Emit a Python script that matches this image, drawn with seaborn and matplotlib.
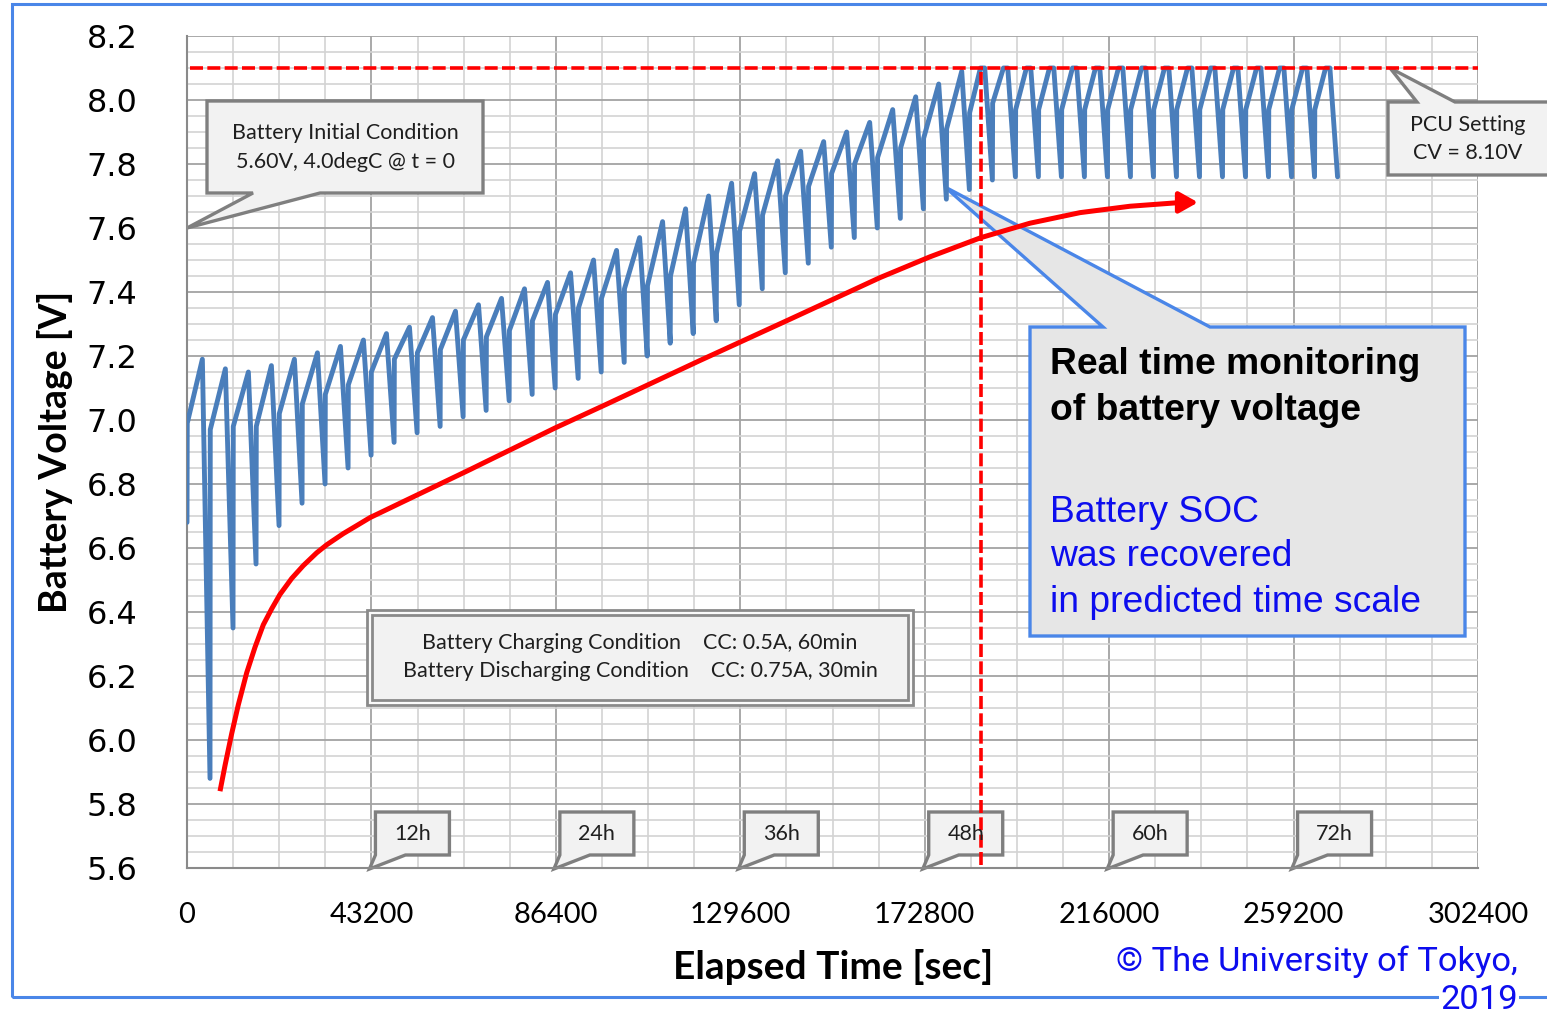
import numpy as np
import pandas as pd
import matplotlib
matplotlib.use("Agg")
import matplotlib.pyplot as plt
import seaborn as sns
from matplotlib.patches import Polygon, Rectangle
from matplotlib.ticker import MultipleLocator, FixedLocator, FixedFormatter

# ---------------- data ----------------
CYCLE_SEC = 5390          # 60 min charge + 30 min discharge
CHARGE_SEC = 3600
START_V = 6.68            # voltage at t = 0
CV_LIMIT = 8.10           # PCU CV setting

CHARGE_START_V = [6.99, 6.97, 6.98, 6.98, 7.02, 7.05, 7.08, 7.11, 7.15, 7.19,
                  7.21, 7.22, 7.25, 7.26, 7.28, 7.31, 7.33, 7.35, 7.38, 7.41,
                  7.42, 7.45, 7.49, 7.52, 7.59, 7.64, 7.70, 7.73, 7.77, 7.80,
                  7.82, 7.85, 7.88, 7.91, 7.96, 7.99, 7.97, 7.97, 7.97, 7.97,
                  7.97, 7.97, 7.97, 7.97, 7.97, 7.97, 7.97, 7.97, 7.97, 7.97]
PEAK_V = [7.19, 7.16, 7.15, 7.17, 7.19, 7.21, 7.23, 7.25, 7.27, 7.29,
          7.32, 7.34, 7.36, 7.38, 7.41, 7.43, 7.46, 7.50, 7.53, 7.57,
          7.62, 7.66, 7.70, 7.74, 7.77, 7.81, 7.84, 7.87, 7.90, 7.93,
          7.97, 8.01, 8.05, 8.09, 8.10, 8.10, 8.10, 8.10, 8.10, 8.10,
          8.10, 8.10, 8.10, 8.10, 8.10, 8.10, 8.10, 8.10, 8.10, 8.10]
TROUGH_V = [5.88, 6.35, 6.55, 6.67, 6.74, 6.80, 6.85, 6.89, 6.93, 6.96,
            6.98, 7.01, 7.03, 7.06, 7.08, 7.10, 7.13, 7.15, 7.18, 7.20,
            7.24, 7.27, 7.31, 7.36, 7.41, 7.46, 7.49, 7.54, 7.57, 7.60,
            7.63, 7.66, 7.69, 7.72, 7.75, 7.76, 7.76, 7.76, 7.76, 7.76,
            7.76, 7.76, 7.76, 7.76, 7.76, 7.76, 7.76, 7.76, 7.76, 7.76]

# hand-drawn SOC trend arrow (red)
TREND_T = [7730, 8900, 10470, 12020, 13980, 15930, 17870, 19840, 21780, 24530,
           27240, 30380, 32720, 36610, 39750, 42870, 46780, 50670, 54580, 60040,
           66290, 69330, 86200, 98380, 120000, 141250, 162330, 174040, 185990,
           197460, 209180, 220890, 233070, 236820]
TREND_V = [5.84, 5.92, 6.02, 6.11, 6.21, 6.29, 6.36, 6.41, 6.455, 6.505,
           6.545, 6.585, 6.61, 6.645, 6.67, 6.695, 6.72, 6.745, 6.77, 6.805,
           6.845, 6.865, 6.975, 7.05, 7.185, 7.315, 7.445, 7.51, 7.57,
           7.615, 7.648, 7.668, 7.68, 7.68]

CV_START_T = 186100       # vertical dashed marker
X_TICKS = [0, 43200, 86400, 129600, 172800, 216000, 259200, 302400]
Y_TICKS = [5.6, 5.8, 6.0, 6.2, 6.4, 6.6, 6.8, 7.0, 7.2, 7.4, 7.6, 7.8, 8.0, 8.2]
HOUR_T = [43200, 86400, 129600, 172800, 216000, 259200]
HOUR_LABELS = ["12h", "24h", "36h", "48h", "60h", "72h"]

# ---------------- build the measured series ----------------
t_pts, v_pts = [0.0], [START_V]
for k in range(len(PEAK_V)):
    t0 = k * CYCLE_SEC
    t_pts.append(t0 + 60); v_pts.append(CHARGE_START_V[k])
    if PEAK_V[k] >= CV_LIMIT:
        t_pts.append(t0 + 0.72 * CHARGE_SEC); v_pts.append(CV_LIMIT)
    t_pts.append(t0 + CHARGE_SEC); v_pts.append(PEAK_V[k])
    t_pts.append(t0 + CYCLE_SEC); v_pts.append(TROUGH_V[k])
df = pd.DataFrame({"t": t_pts, "v": v_pts})
trend = pd.DataFrame({"t": TREND_T, "v": TREND_V})

# ---------------- figure ----------------
sns.set_theme(style="white")
plt.rcParams["font.family"] = ["DejaVu Sans"]
W, H = 1547, 1017
fig = plt.figure(figsize=(W / 100, H / 100), dpi=100)
ax = fig.add_axes([187 / W, 1 - 868 / H, 1291 / W, 832 / H])


def fp(x, y):
    return (x / W, 1 - y / H)


ax.set_xlim(0, 302400)
ax.set_ylim(5.6, 8.2)
ax.xaxis.set_major_locator(FixedLocator(X_TICKS))
ax.xaxis.set_major_formatter(FixedFormatter([str(x) for x in X_TICKS]))
ax.xaxis.set_minor_locator(MultipleLocator(10800))
ax.yaxis.set_major_locator(FixedLocator(Y_TICKS))
ax.yaxis.set_major_formatter(FixedFormatter([f"{y:.1f}" for y in Y_TICKS]))
ax.yaxis.set_minor_locator(MultipleLocator(0.05))
ax.set_axisbelow(True)
ax.grid(which="major", color="#a3a3a3", lw=1.3)
ax.grid(which="minor", color="#d3d3d3", lw=1.2)
for s in ["top", "right"]:
    ax.spines[s].set_visible(False)
for s in ["left", "bottom"]:
    ax.spines[s].set_color("#8a8a8a")
    ax.spines[s].set_linewidth(1.5)
ax.tick_params(axis="both", which="major", direction="out", length=8.6,
               width=1.1, color="#8a8a8a")
ax.tick_params(axis="both", which="minor", length=0)
ax.tick_params(axis="x", which="major", pad=16)
ax.tick_params(axis="y", which="major", pad=27)
for lab in ax.get_xticklabels():
    lab.set_fontfamily("Lato"); lab.set_fontsize(21); lab.set_color("black")
for lab in ax.get_yticklabels():
    lab.set_fontfamily("DejaVu Sans"); lab.set_fontsize(23); lab.set_color("black")

# measured battery voltage
sns.lineplot(data=df, x="t", y="v", ax=ax, color="#4a7ebb", lw=3.5,
             estimator=None, sort=False, zorder=3, legend=False,
             solid_joinstyle="round", solid_capstyle="round")
# SOC trend arrow
sns.lineplot(data=trend.iloc[:-1], x="t", y="v", ax=ax, color="red", lw=3.6,
             estimator=None, sort=False, zorder=4, legend=False,
             solid_capstyle="butt", solid_joinstyle="round")
ax.annotate("", xy=(TREND_T[-1], TREND_V[-1]), xytext=(TREND_T[-2], TREND_V[-2]),
            arrowprops=dict(arrowstyle="-|>,head_length=0.8,head_width=0.45",
                            mutation_scale=14, color="red", lw=3.6,
                            shrinkA=0, shrinkB=0), zorder=4)
# CV limit and CV start markers
ax.plot([800, 302400], [CV_LIMIT, CV_LIMIT], color="red", lw=2.6,
        dashes=(3.6, 1.2), zorder=4)
ax.plot([CV_START_T, CV_START_T], [5.61, CV_LIMIT], color="red", lw=2.6,
        dashes=(3.6, 1.2), zorder=4)

ax.set_xlabel("Elapsed Time [sec]", fontfamily="Lato", fontweight="bold",
              fontsize=28, color="black", va="center")
ax.xaxis.set_label_coords((833 - 187) / 1291, (868 - 967) / 832)
ax.set_ylabel("Battery Voltage [V]", fontfamily="Lato", fontweight="bold",
              fontsize=27, color="black", va="center")
ax.yaxis.set_label_coords((55 - 187) / 1291, (868 - 452) / 832)


def callout(pts, fc, ec, lw=2.4, z=2):
    poly = Polygon([fp(*p) for p in pts], closed=True, transform=fig.transFigure,
                   facecolor=fc, edgecolor=ec, lw=lw, joinstyle="miter",
                   clip_on=False, zorder=z)
    ax.add_patch(poly)


GRAY_FC, GRAY_EC = "#f2f2f2", "#7f7f7f"
TXT = "#1f1f1f"

# initial condition callout
callout([(207, 101), (483, 101), (483, 193), (320, 193), (187, 228), (253, 193),
         (207, 193)], GRAY_FC, GRAY_EC)
for txt, y in [("Battery Initial Condition", 133), ("5.60V, 4.0degC @ t = 0", 162)]:
    fig.text(*fp(345, y), txt, ha="center", va="center", fontsize=15.5,
             family="Lato", color=TXT, zorder=5)

# PCU setting callout
callout([(1388, 102), (1417, 102), (1390, 68), (1455, 102), (1570, 102),
         (1570, 175), (1388, 175)], GRAY_FC, GRAY_EC)
for txt, y in [("PCU Setting", 125), ("CV = 8.10V", 153)]:
    fig.text(*fp(1468, y), txt, ha="center", va="center", fontsize=15.5,
             family="Lato", color=TXT, zorder=5)

# charging condition box (double border)
for (x0, y0, x1, y1), fcol in [((367, 610, 913, 705), "#fafafa"),
                               ((372, 615, 908, 700), GRAY_FC)]:
    r = Rectangle(fp(x0, y1), (x1 - x0) / W, (y1 - y0) / H,
                  transform=fig.transFigure, facecolor=fcol, edgecolor="#8a8a8a",
                  lw=2.0, clip_on=False, zorder=2)
    ax.add_patch(r)
fig.text(*fp(640, 643), "Battery Charging Condition    CC: 0.5A, 60min",
         ha="center", va="center", fontsize=15.5, family="Lato", color=TXT, zorder=5)
fig.text(*fp(640, 671), "Battery Discharging Condition    CC: 0.75A, 30min",
         ha="center", va="center", fontsize=15.5, family="Lato", color=TXT, zorder=5)

# hour callouts
for ht, lab in zip(HOUR_T, HOUR_LABELS):
    dx, dy = ax.transData.transform((ht, 5.6))
    tipx, tipy = dx, H - dy
    x0 = tipx + 4
    callout([(x0, 812), (x0 + 74, 812), (x0 + 74, 855), (x0 + 30, 855),
             (tipx - 2, tipy + 1), (x0, 855)], GRAY_FC, GRAY_EC)
    fig.text(*fp(x0 + 37, 834), lab, ha="center", va="center", fontsize=15.5,
             family="Lato", color=TXT, zorder=5)

# blue callout
callout([(1030, 327), (1103, 327), (945, 187), (1210, 327), (1465, 327),
         (1465, 636), (1030, 636)], "#e6e6e6", "#4a86e8", lw=2.4, z=2.5)
for txt, y in [("Real time monitoring", 365), ("of battery voltage", 410)]:
    fig.text(*fp(1050, y), txt, ha="left", va="center", fontsize=26.8,
             family="Liberation Sans", fontweight="bold", color="black", zorder=5)
for txt, y in [("Battery SOC", 512), ("was recovered", 557),
               ("in predicted time scale", 602)]:
    fig.text(*fp(1050, y), txt, ha="left", va="center", fontsize=26.8,
             family="Liberation Sans", color="#0d0dee", zorder=5)

# outer frame and credit
fig.add_artist(Rectangle(fp(12, 997), 1.05, (997 - 4) / H, transform=fig.transFigure,
                         fill=False, edgecolor="#4a86e8", lw=2.2, clip_on=False,
                         zorder=1))
fig.text(*fp(1518, 962), "\u00a9 The University of Tokyo,", ha="right", va="center",
         fontsize=24.8, family="Roboto", color="#0d0dee", zorder=5)
fig.text(*fp(1518, 1000), "2019", ha="right", va="center", fontsize=24.8,
         family="Roboto", color="#0d0dee", zorder=5,
         bbox=dict(facecolor="white", edgecolor="none", pad=1))

fig.savefig("out.png", dpi=100)
